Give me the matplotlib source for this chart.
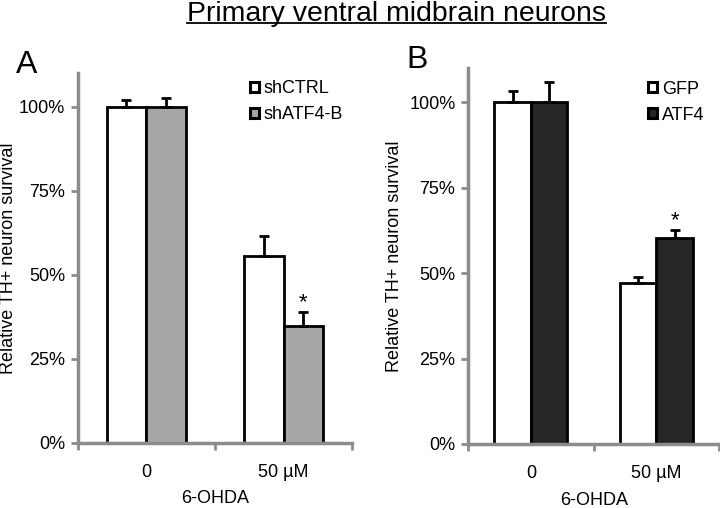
import matplotlib
matplotlib.use("Agg")
import matplotlib.pyplot as plt
from matplotlib.patches import Patch
import numpy as np

plt.rcParams["font.family"] = ["Liberation Sans", "DejaVu Sans"]

categories = ["0", "50 µM"]

a_labels = ["shCTRL", "shATF4-B"]
a_means = [[100, 55.7], [100, 34.8]]
a_errs = [[2.0, 5.8], [2.7, 4.2]]
a_stars = [None, 1]

b_labels = ["GFP", "ATF4"]
b_means = [[100, 47.0], [100, 60.2]]
b_errs = [[3.2, 2.0], [6.0, 2.3]]
b_stars = [None, 1]

y_ticks = [0, 25, 50, 75, 100]
AXIS_GRAY = "#8c8c8c"
FS = 13


def draw_panel(ax, labels, means, errs, stars, colors, letter, letter_x, legend_xy, ylabel_x):
    x = np.arange(len(categories))
    width = 0.29
    for i, (lab, m, e, c) in enumerate(zip(labels, means, errs, colors)):
        offs = (i - 0.5) * width
        ax.bar(x + offs, m, width, color=c, edgecolor="black", linewidth=2, label=lab, zorder=2)
        ax.errorbar(x + offs, m, yerr=[np.zeros(len(e)), e], fmt="none", ecolor="black",
                    elinewidth=2, capsize=3.5, capthick=2, zorder=3)
        if stars[i] is not None:
            k = stars[i]
            ax.text(x[k] + offs, m[k] + e[k] - 0.3, "*", ha="center", va="bottom", fontsize=16)

    ax.set_xlim(-0.5, 1.5)
    ax.set_ylim(0, 110)
    ax.set_yticks(y_ticks)
    ax.set_yticklabels([f"{t}%" for t in y_ticks], fontsize=FS)
    ax.set_xticks([-0.5, 0.5, 1.5])
    ax.set_xticklabels([])
    ax.set_xticks(x, minor=True)
    ax.set_xticklabels(categories, minor=True, fontsize=FS)
    ax.tick_params(axis="x", which="minor", length=0, pad=15)
    ax.tick_params(axis="x", which="major", length=5, width=2, color=AXIS_GRAY, direction="out")
    ax.tick_params(axis="y", length=5, width=2, color=AXIS_GRAY, direction="out", pad=4)
    for s in ["top", "right"]:
        ax.spines[s].set_visible(False)
    for s in ["left", "bottom"]:
        ax.spines[s].set_color(AXIS_GRAY)
        ax.spines[s].set_linewidth(2.5)
    ax.set_ylabel("Relative TH+ neuron survival", fontsize=FS)
    ax.yaxis.set_label_coords(ylabel_x, 0.5)
    ax.set_xlabel("6-OHDA", fontsize=FS)
    ax.xaxis.set_label_coords(0.5, -0.15)
    ax.xaxis.label.set_va("center")

    handles = [Patch(facecolor=c, edgecolor="black", linewidth=2.2) for c in colors]
    ax.legend(handles, labels, loc="upper left", bbox_to_anchor=legend_xy, frameon=False,
              fontsize=FS, handlelength=0.5, handleheight=0.5, handletextpad=0.3,
              labelspacing=0.5, borderaxespad=0.3)
    ax.text(letter_x, 1.0, letter, transform=ax.transAxes, fontsize=23, ha="left", va="baseline")


fig = plt.figure(figsize=(7.2, 5.08), dpi=100)
ax_a = fig.add_axes([0.108, 0.128, 0.381, 0.728])
ax_b = fig.add_axes([0.650, 0.126, 0.349, 0.740])

draw_panel(ax_a, a_labels, a_means, a_errs, a_stars, ["white", "#a6a6a6"], "A", -0.225,
           (0.58, 1.015), -0.222)
draw_panel(ax_b, b_labels, b_means, b_errs, b_stars, ["white", "#262626"], "B", -0.245,
           (0.665, 1.0), -0.258)

title = fig.text(0.55, 0.9587, "Primary ventral midbrain neurons", ha="center", va="baseline",
                 fontsize=20.5)
fig.canvas.draw()
bb = title.get_window_extent()
inv = fig.transFigure.inverted()
(x0, _), (x1, _) = inv.transform([[bb.x0, bb.y0], [bb.x1, bb.y1]])
fig.add_artist(plt.Line2D([x0, x1], [0.9547, 0.9547], color="black", linewidth=1.3))

fig.savefig("out.png", dpi=100)
